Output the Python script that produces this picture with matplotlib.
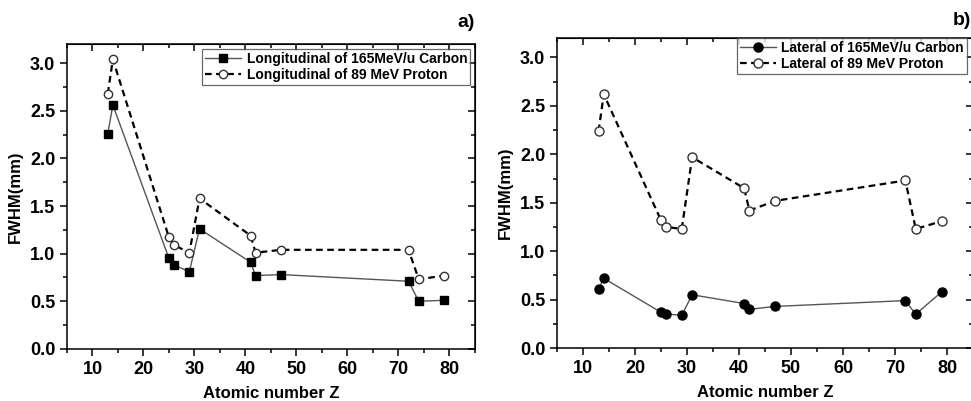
import matplotlib
matplotlib.use("Agg")
import matplotlib.pyplot as plt
from matplotlib.ticker import MultipleLocator

plt.rcParams['font.family'] = ['Liberation Sans', 'DejaVu Sans']
plt.rcParams['font.weight'] = 'bold'

#******************************* data *******************************
Z = [13, 14, 25, 26, 29, 31, 41, 42, 47, 72, 74, 79]

long_carbon = [2.26, 2.56, 0.95, 0.88, 0.81, 1.26, 0.91, 0.77, 0.78, 0.71, 0.50, 0.51]
long_proton = [2.68, 3.04, 1.17, 1.09, 1.01, 1.58, 1.19, 1.01, 1.04, 1.04, 0.73, 0.77]

lat_carbon = [0.61, 0.72, 0.37, 0.35, 0.34, 0.55, 0.46, 0.40, 0.43, 0.49, 0.35, 0.58]
lat_proton = [2.24, 2.62, 1.32, 1.25, 1.23, 1.97, 1.65, 1.42, 1.52, 1.73, 1.23, 1.31]

labels_a = ["Longitudinal of 165MeV/u Carbon", "Longitudinal of 89 MeV Proton"]
labels_b = ["Lateral of 165MeV/u Carbon", "Lateral of 89 MeV Proton"]

#******************************* figure *******************************
fig = plt.figure(figsize=(9.71, 4.01), dpi=100)
axA = fig.add_axes([0.069, 0.130, 0.420, 0.760])
axB = fig.add_axes([0.5736, 0.132, 0.4284, 0.773])


def style(ax):
    ax.set_xlim(5, 85)
    ax.set_ylim(0, 3.2)
    ax.xaxis.set_major_locator(MultipleLocator(10))
    ax.xaxis.set_minor_locator(MultipleLocator(5))
    ax.yaxis.set_major_locator(MultipleLocator(0.5))
    ax.yaxis.set_minor_locator(MultipleLocator(0.25))
    ax.yaxis.set_major_formatter(plt.FormatStrFormatter('%.1f'))
    ax.tick_params(which='both', direction='out', width=1.1, labelsize=13)
    ax.tick_params(which='major', length=5)
    ax.tick_params(which='minor', length=3)
    for s in ax.spines.values():
        s.set_linewidth(1.1)
    # mirrored ticks pointing inward on top and right
    top = ax.secondary_xaxis('top')
    top.xaxis.set_major_locator(MultipleLocator(10))
    top.xaxis.set_minor_locator(MultipleLocator(5))
    top.tick_params(which='both', direction='in', labeltop=False, width=1.1)
    top.tick_params(which='major', length=5)
    top.tick_params(which='minor', length=3)
    right = ax.secondary_yaxis('right')
    right.yaxis.set_major_locator(MultipleLocator(0.5))
    right.yaxis.set_minor_locator(MultipleLocator(0.25))
    right.tick_params(which='both', direction='in', labelright=False, width=1.1)
    right.tick_params(which='major', length=5)
    right.tick_params(which='minor', length=3)
    ax.set_xlabel("Atomic number Z", fontsize=12, fontweight='bold', labelpad=6)
    ax.set_ylabel("FWHM(mm)", fontsize=12, fontweight='bold', labelpad=5)


leg_kw = dict(fontsize=10, frameon=True, fancybox=False, edgecolor='#444444',
              borderpad=0.2, handlelength=2.6, handletextpad=0.4, labelspacing=0.15)

# panel a
axA.plot(Z, long_carbon, '-', color='#555555', lw=1.0, marker='s', ms=5.5,
         mfc='black', mec='black', label=labels_a[0])
axA.plot(Z, long_proton, '--', color='black', lw=1.6, dashes=(3, 2), marker='o', ms=6,
         mfc='white', mec='#333333', mew=1.0, label=labels_a[1])
style(axA)
axA.legend(loc='upper right', borderaxespad=0.35, **leg_kw).get_frame().set_linewidth(0.9)
fig.text(0.489, 0.945, "a)", fontsize=14, fontweight='bold', ha='right', va='center')

# panel b
axB.plot(Z, lat_carbon, '-', color='#555555', lw=1.0, marker='o', ms=6.5,
         mfc='black', mec='black', label=labels_b[0])
axB.plot(Z, lat_proton, '--', color='black', lw=1.6, dashes=(3, 2), marker='o', ms=6.5,
         mfc='white', mec='#333333', mew=1.0, label=labels_b[1])
style(axB)
axB.legend(loc='upper right', borderaxespad=0.0, bbox_to_anchor=(0.985, 1.0),
           **leg_kw).get_frame().set_linewidth(0.9)
fig.text(0.981, 0.95, "b)", fontsize=14, fontweight='bold', ha='left', va='center')

fig.savefig("out.png", dpi=100)
